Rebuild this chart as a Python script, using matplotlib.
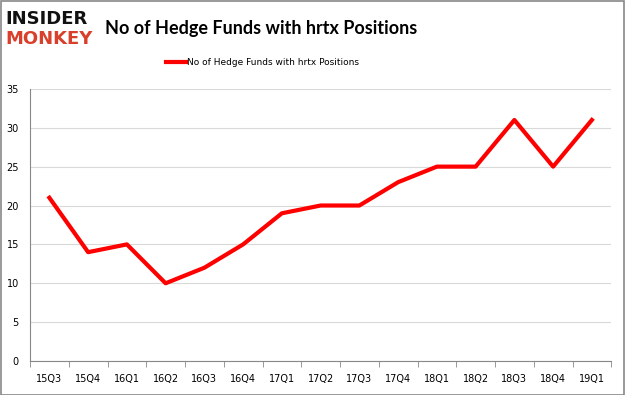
import matplotlib.pyplot as plt
from matplotlib.patches import Rectangle

quarters = ['15Q3', '15Q4', '16Q1', '16Q2', '16Q3', '16Q4', '17Q1', '17Q2',
            '17Q3', '17Q4', '18Q1', '18Q2', '18Q3', '18Q4', '19Q1']
funds = [21, 14, 15, 10, 12, 15, 19, 20, 20, 23, 25, 25, 31, 25, 31]

fig = plt.figure(figsize=(6.25, 3.95), dpi=100)
ax = fig.add_axes([0.048, 0.086, 0.93, 0.689])

x = list(range(len(quarters)))
ax.plot(x, funds, color='#ff0000', linewidth=3, label='No of Hedge Funds with hrtx Positions')
ax.set_xlim(-0.5, len(quarters) - 0.5)
ax.set_ylim(0, 35)
ax.set_yticks(range(0, 36, 5))
ax.set_xticks(x)
ax.set_xticklabels(quarters)
ax.set_xticks([i - 0.5 for i in range(len(quarters) + 1)], minor=True)
ax.tick_params(axis='x', which='major', length=0, labelsize=7, pad=9)
ax.tick_params(axis='x', which='minor', length=4, color='#888888')
ax.tick_params(axis='y', length=0, labelsize=7, pad=8)
ax.grid(axis='y', color='#d9d9d9', linewidth=0.8)
ax.set_axisbelow(True)
for s in ['top', 'right']:
    ax.spines[s].set_visible(False)
ax.spines['left'].set_color('#888888')
ax.spines['bottom'].set_color('#888888')

ax.legend(loc='center', bbox_to_anchor=(0.42, 0.842), bbox_transform=fig.transFigure,
          frameon=False, fontsize=6.5, handlelength=2.3, handletextpad=0.1)

fig.text(0.418, 0.927, 'No of Hedge Funds with hrtx Positions', ha='center', va='center',
         fontsize=13, fontweight='bold', family='Lato')
fig.text(0.009, 0.953, 'INSIDER', fontsize=13, fontweight='heavy', color='#111111',
         va='center', ha='left', family='DejaVu Sans')
fig.text(0.009, 0.900, 'MONKEY', fontsize=13, fontweight='heavy', color='#d9402b',
         va='center', ha='left', family='DejaVu Sans')

fig.patches.append(Rectangle((0.001, 0.001), 0.997, 0.997, transform=fig.transFigure,
                             fill=False, edgecolor='#888888', linewidth=1.2))

fig.savefig('out.png', dpi=100)
